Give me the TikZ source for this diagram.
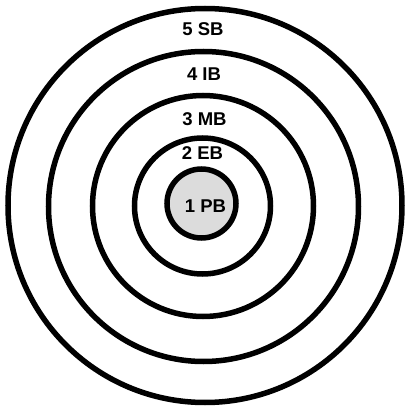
\documentclass[tikz,border=0pt]{standalone}
\usepackage{fontspec}
\setmainfont{Liberation Sans}
\definecolor{coregrey}{HTML}{DCDCDC}
\tikzset{
  ring/.style={circle, draw=black, line width=5.5pt, inner sep=0pt, minimum size=#1},
  lab/.style={font=\fontsize{18.5}{21}\selectfont\bfseries, inner sep=0pt, text=black}
}
\begin{document}
\begin{tikzpicture}[x=1pt,y=1pt]
\useasboundingbox (0,0) rectangle (406,408);
\node[ring=394pt] (r5) at (205,202.5) {};
\node[ring=310pt] (r4) at (203.5,201.5) {};
\node[ring=221pt] (r3) at (203,202) {};
\node[ring=136pt] (r2) at (202.5,202) {};
\node[ring=69pt, fill=coregrey] (r1) at (201.5,204.5) {};
\node[lab] (t5) at (203,378.5) {5 SB};
\node[lab] (t4) at (204,334) {4 IB};
\node[lab] (t3) at (204.5,289) {3 MB};
\node[lab] (t2) at (202.5,255) {2 EB};
\node[lab, fill=coregrey, inner xsep=2.5pt, inner ysep=2pt] (t1) at (205.5,202) {1 PB};
\end{tikzpicture}
\end{document}
